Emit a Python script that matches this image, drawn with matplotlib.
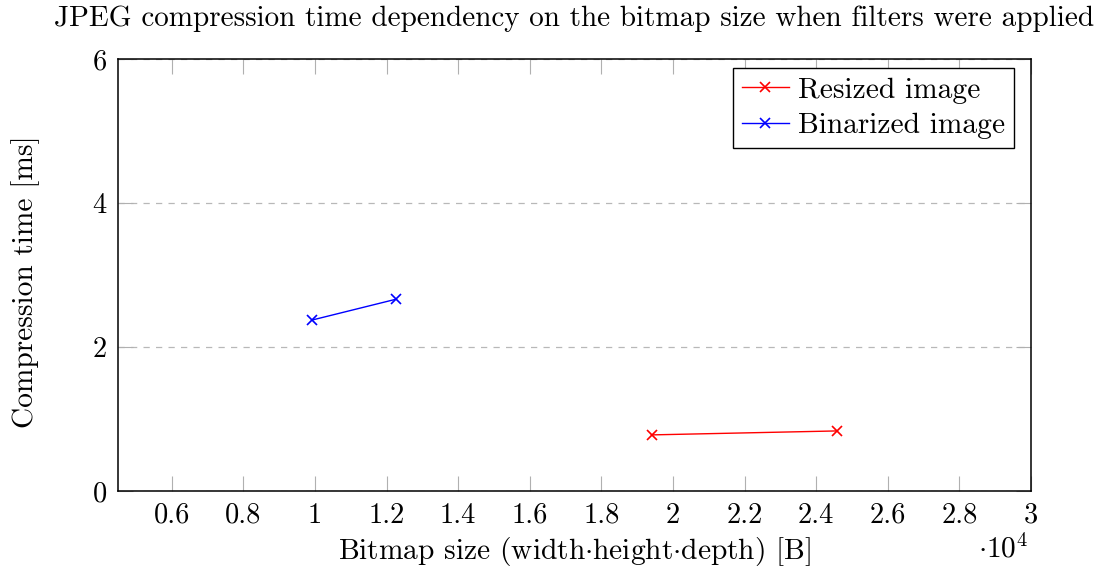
import matplotlib
matplotlib.use("Agg")
import matplotlib.pyplot as plt
from matplotlib.ticker import FuncFormatter, MultipleLocator

plt.rcParams['font.family'] = 'serif'
plt.rcParams['font.serif'] = ['cmr10']
plt.rcParams['mathtext.fontset'] = 'cm'
plt.rcParams['axes.formatter.use_mathtext'] = True

# bitmap size [B] and compression time [ms]
resized_size = [19400, 24570]
resized_time = [0.78, 0.835]
binarized_size = [9920, 12270]
binarized_time = [2.375, 2.665]

FS = 20.5
LFS = 21.2

fig = plt.figure(figsize=(11.02, 5.73), dpi=100)
ax = fig.add_axes([0.1071, 0.143, 0.8285, 0.754])

ax.plot(resized_size, resized_time, color='red', lw=1.0, marker='x', ms=6.5, mew=1.2,
        label='Resized image')
ax.plot(binarized_size, binarized_time, color='blue', lw=1.0, marker='x', ms=6.5, mew=1.2,
        label='Binarized image')

ax.set_xlim(4500, 30000)
ax.set_ylim(0, 6)
ax.xaxis.set_major_locator(MultipleLocator(2000))
ax.yaxis.set_major_locator(MultipleLocator(2))
ax.xaxis.set_major_formatter(FuncFormatter(lambda v, p: ('%g' % round(v / 1e4, 2))))
ax.yaxis.set_major_formatter(FuncFormatter(lambda v, p: '%g' % v))

ax.tick_params(direction='in', length=11, width=0.8, color='#b0b0b0',
               labelsize=FS, top=True, right=True, pad=8)
for s in ax.spines.values():
    s.set_linewidth(1.1)
    s.set_color('black')

ax.yaxis.grid(True, linestyle=(0, (5, 5)), color='#b8b8b8', lw=0.9)
ax.set_axisbelow(True)

ax.set_title('JPEG compression time dependency on the bitmap size when filters were applied',
             fontsize=21, pad=24)
ax.set_xlabel(r'Bitmap size (width$\cdot$height$\cdot$depth) [B]', fontsize=LFS, labelpad=5)
ax.set_ylabel('Compression time [ms]', fontsize=LFS)
ax.yaxis.set_label_coords(-0.085, 0.484)
ax.text(0.97, -0.10, r'$\cdot 10^4$', transform=ax.transAxes, fontsize=LFS,
        ha='center', va='top')

leg = ax.legend(loc='upper right', bbox_to_anchor=(0.981, 0.979), borderaxespad=0,
                fontsize=LFS, fancybox=False, framealpha=1, edgecolor='black',
                handlelength=1.6, handletextpad=0.3, labelspacing=0.3, borderpad=0.3)
leg.get_frame().set_linewidth(1.0)

fig.savefig('out.png', dpi=100)
